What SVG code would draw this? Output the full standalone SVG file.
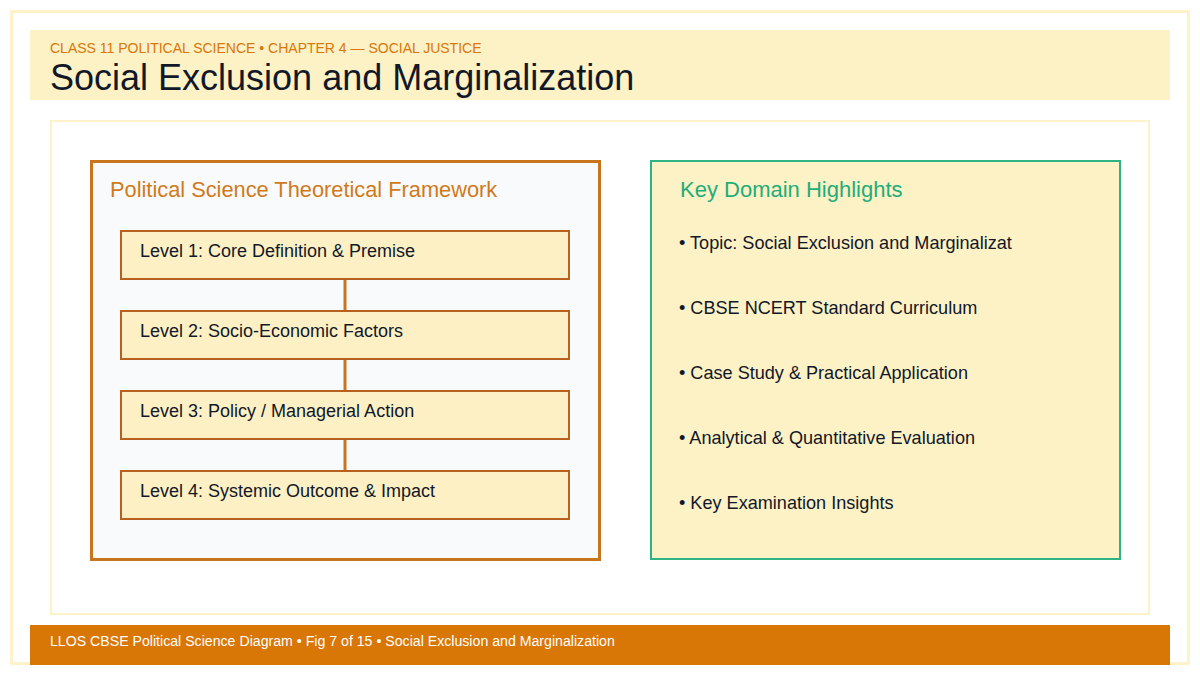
<svg xmlns="http://www.w3.org/2000/svg" width="1200" height="675" viewBox="0 0 1200 675">
<style>
text{font-family:"Liberation Sans",Arial,sans-serif}
.lvl rect{fill:#fdf0c5;stroke:#b8611f;stroke-width:2}
.lvl text{font-size:18px;fill:#111827}
.bul{font-size:18.1px;fill:#111827}
.conn line{stroke:#c8761e;stroke-width:3}
</style>
<rect x="0" y="0" width="1200" height="675" fill="#ffffff"/>
<rect x="11.5" y="11.5" width="1177" height="652" fill="none" stroke="#fdf2c9" stroke-width="3"/>
<g id="header">
<rect x="30" y="30" width="1140" height="70" fill="#fdf2c6"/>
<text x="50" y="53" font-size="14" fill="#d97706">CLASS 11 POLITICAL SCIENCE • CHAPTER 4 — SOCIAL JUSTICE</text>
<text x="50" y="90" font-size="36" fill="#111827">Social Exclusion and Marginalization</text>
</g>
<rect x="51" y="121" width="1098" height="493" fill="#ffffff" stroke="#fdf2c9" stroke-width="2"/>
<g id="framework">
<rect x="91.5" y="161.5" width="508" height="398" fill="#f8fafc" stroke="#c8761e" stroke-width="3"/>
<text x="110" y="197" font-size="21.8" fill="#d07a1a">Political Science Theoretical Framework</text>
</g>
<g class="conn" id="connectors">
<line x1="345" y1="280" x2="345" y2="311"/>
<line x1="345" y1="360" x2="345" y2="391"/>
<line x1="345" y1="440" x2="345" y2="471"/>
</g>
<g class="lvl" id="level1"><rect x="121" y="231" width="448" height="48"/><text x="140" y="257">Level 1: Core Definition &amp; Premise</text></g>
<g class="lvl" id="level2"><rect x="121" y="311" width="448" height="48"/><text x="140" y="337">Level 2: Socio-Economic Factors</text></g>
<g class="lvl" id="level3"><rect x="121" y="391" width="448" height="48"/><text x="140" y="417">Level 3: Policy / Managerial Action</text></g>
<g class="lvl" id="level4"><rect x="121" y="471" width="448" height="48"/><text x="140" y="497">Level 4: Systemic Outcome &amp; Impact</text></g>
<g id="highlights">
<rect x="651" y="161" width="469" height="398" fill="#fdf1c6" stroke="#2bb383" stroke-width="2"/>
<text x="680" y="197" font-size="22" fill="#1fae7a">Key Domain Highlights</text>
<text class="bul" x="679" y="249">• Topic: Social Exclusion and Marginalizat</text>
<text class="bul" x="679" y="314">• CBSE NCERT Standard Curriculum</text>
<text class="bul" x="679" y="379">• Case Study &amp; Practical Application</text>
<text class="bul" x="679" y="444">• Analytical &amp; Quantitative Evaluation</text>
<text class="bul" x="679" y="509">• Key Examination Insights</text>
</g>
<g id="footer">
<rect x="30" y="625" width="1140" height="40" fill="#d97706"/>
<text x="50" y="646" font-size="14.15" fill="#ffffff">LLOS CBSE Political Science Diagram • Fig 7 of 15 • Social Exclusion and Marginalization</text>
</g>
</svg>
